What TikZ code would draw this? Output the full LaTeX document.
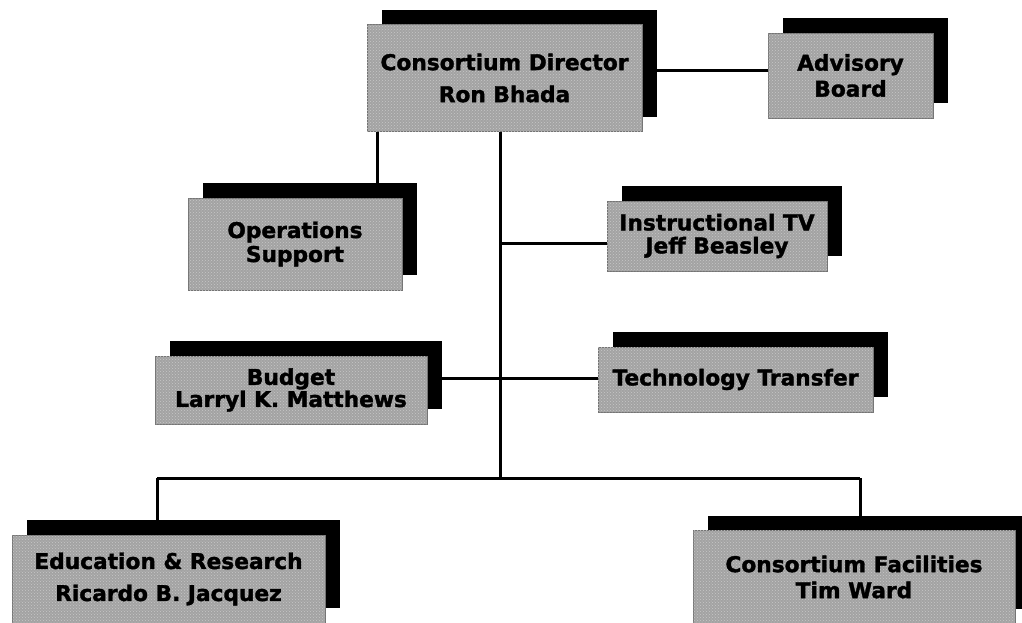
\documentclass[tikz,border=0pt]{standalone}
\usepackage{fontspec}
\newfontfamily\boxfont{DejaVu Sans}[BoldFeatures={FakeBold=1.6}]
\usetikzlibrary{shadows,backgrounds,patterns}
\begin{document}
\begin{tikzpicture}[x=1pt,y=-1pt,
  box/.style={rectangle, fill=black!36, draw=black!55, line width=0.8pt, inner sep=0pt, align=center,
     font=\boxfont\bfseries\fontsize{21.7}{#1}\selectfont,
     postaction={pattern=crosshatch dots, pattern color=black!22},
     drop shadow={shadow xshift=15pt,shadow yshift=15pt,fill=black,opacity=1}},
  box/.default=30,
  conn/.style={line width=3pt, black}]
\useasboundingbox (0,0) rectangle (1022,622);

\node[box=32, minimum width=275pt, minimum height=107pt] (dir) at (504.5,78) {Consortium Director\\Ron Bhada};
\node[box=26, minimum width=165pt, minimum height=85pt] (adv) at (850.5,75.5) {Advisory\\Board};
\node[box=24, minimum width=214pt, minimum height=92pt] (ops) at (295,244) {Operations\\Support};
\node[box=23, minimum width=220pt, minimum height=70pt] (itv) at (717,236) {Instructional TV\\Jeff Beasley};
\node[box=21, minimum width=272pt, minimum height=68pt] (bud) at (291,390) {Budget\\Larryl K. Matthews};
\node[box=24, minimum width=275pt, minimum height=65pt] (tech) at (735.5,379.5) {Technology Transfer};
\node[box=32, minimum width=313pt, minimum height=88pt] (edu) at (168.5,579) {Education \& Research\\Ricardo B. Jacquez};
\node[box=26, minimum width=322pt, minimum height=93pt] (fac) at (854,577) {Consortium Facilities\\Tim Ward};

\coordinate (j1) at (500,243);
\coordinate (j2) at (500,378);
\coordinate (hub) at (500,478);
\coordinate (hl) at (157,478);
\coordinate (hr) at (860,478);

\begin{pgfonlayer}{background}
\fill[white] (0,0) rectangle (1022,622);
\draw[conn] ([yshift=8pt]dir.east) -- ([yshift=8pt]dir.east -| adv.west);
\draw[conn] ([xshift=11pt]dir.south west) -- ([xshift=11pt]dir.south west |- ops.north);
\draw[conn] (hub |- dir.south) -- (hub);
\draw[conn] (j1) -- (itv.west |- j1);
\draw[conn] (bud.east |- j2) -- (tech.west |- j2);
\draw[conn] (hl) -- (hr);
\draw[conn] (hl) -- (hl |- edu.north);
\draw[conn] (hr) -- (hr |- fac.north);
\end{pgfonlayer}
\end{tikzpicture}
\end{document}
